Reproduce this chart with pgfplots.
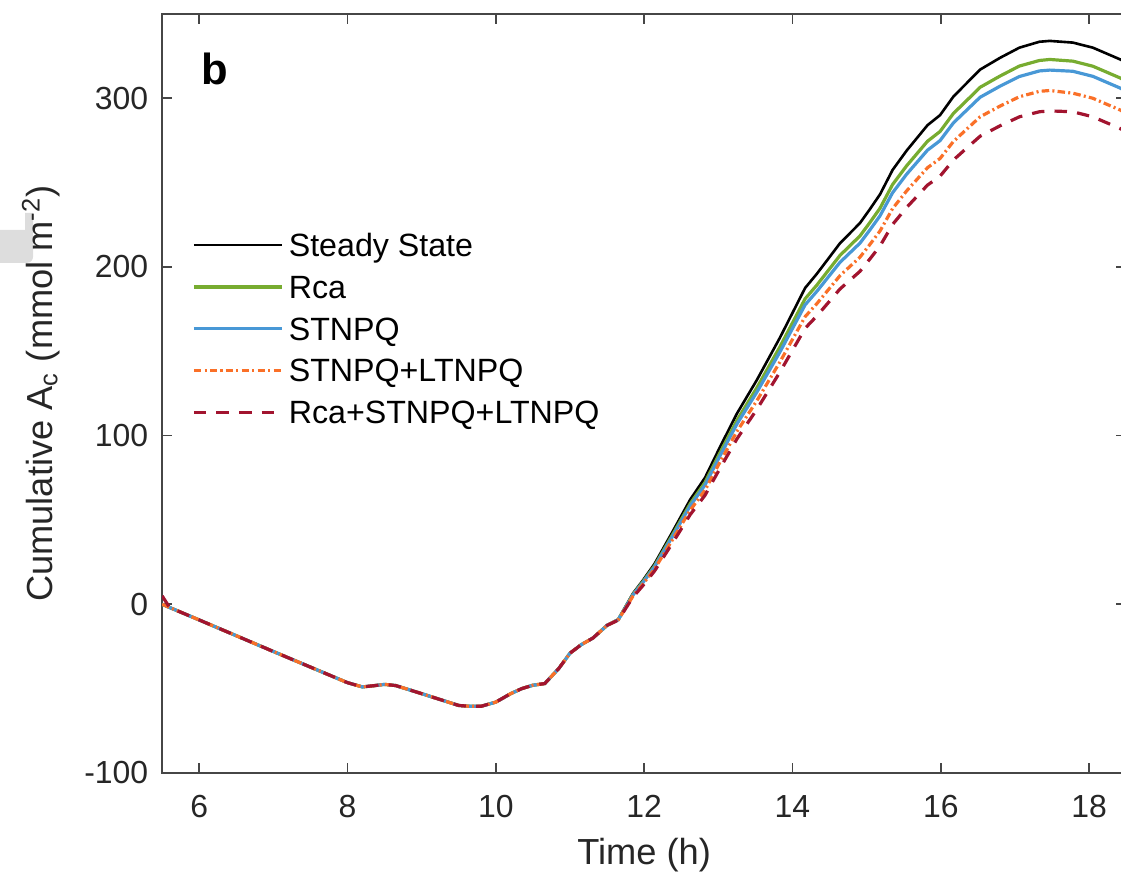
\documentclass[border=0pt]{standalone}
\usepackage{fontspec}
\setmainfont{Liberation Sans}
\usepackage{pgfplots}
\pgfplotsset{compat=1.18}
\usepackage{pgfplotstable}
\definecolor{axgray}{RGB}{38,38,38}
\definecolor{spine}{RGB}{70,70,70}
\definecolor{cgreen}{RGB}{119,172,48}
\definecolor{cblue}{RGB}{72,152,214}
\definecolor{corange}{RGB}{250,112,40}
\definecolor{cred}{RGB}{162,20,47}
\definecolor{blob}{RGB}{221,221,221}

% cumulative assimilation, columns: time, steady state, Rca, STNPQ, STNPQ+LTNPQ, Rca+STNPQ+LTNPQ
\pgfplotstableread{
t     ss     rca    st     stlt   all
5.5   0      0      0      0      5
5.6   -1.9   -1.9   -1.9   -1.9   -1.9
6.0   -9.3   -9.3   -9.3   -9.3   -9.3
7.0   -28    -28    -28    -28    -28
8.0   -46.5  -46.5  -46.5  -46.5  -46.5
8.2   -49    -49    -49    -49    -49
8.35  -48.3  -48.3  -48.3  -48.3  -48.3
8.5   -47.5  -47.5  -47.5  -47.5  -47.5
8.65  -48.2  -48.2  -48.2  -48.2  -48.2
9.0   -53    -53    -53    -53    -53
9.5   -60    -60    -60    -60    -60
9.65  -60.5  -60.5  -60.5  -60.5  -60.5
9.8   -60.5  -60.5  -60.5  -60.5  -60.5
10.0  -58    -58    -58    -58    -58
10.2  -53    -53    -53    -53    -53
10.35 -50    -50    -50    -50    -50
10.5  -48    -48    -48    -48    -48
10.66 -47    -47    -47    -47    -47
10.85 -38    -38    -38    -38    -38
11.0  -29    -29    -29    -29    -29
11.15 -24    -24    -24    -24    -24
11.31 -20    -20    -20    -20    -20
11.5  -12.5  -12.5  -12.5  -12.5  -12.5
11.65 -9     -9.1   -9.2   -9.3   -9.4
11.85 6.5    5.9    5.6    4.9    4.3
11.98 14     13.2   12.7   11.8   10.9
12.14 24     22.8   22.2   20.9   19.7
12.37 42     40.3   39.3   37.4   35.5
12.62 62     59.6   58.3   55.7   53.1
12.82 75     72.2   70.7   67.6   64.6
13.02 93     89.6   87.8   84.1   80.4
13.25 113    109    106.8  102.4  98
13.52 133    128.4  125.8  120.7  115.6
13.83 158    152.6  149.5  143.6  137.6
14.17 187.5  181.1  177.5  170.5  163.6
14.33 196    189.3  185.6  178.3  171
14.64 214    206.8  202.7  194.8  186.9
14.91 226    218.4  214.1  205.8  197.4
15.04 234    226.1  221.7  213.1  204.5
15.18 243    234.8  230.3  221.3  212.4
15.35 257.5  248.9  244    234.6  225.2
15.54 269    260    255    245.1  235.3
15.82 284    274.5  269.2  258.8  248.5
15.99 290    280.3  274.9  264.3  253.8
16.17 301    291    285.4  274.4  263.4
16.35 309    298.7  293    281.7  270.5
16.53 317    306.5  300.6  289    277.5
16.8  324    313.2  307.2  295.4  283.7
17.06 330    319.1  312.9  300.9  289
17.33 333.5  322.4  316.2  304.1  292
17.47 334    323    316.7  304.6  292.5
17.78 333    322    316    303    292
18.05 330    319    313    300    289
18.42 323    312    306    293    282
18.5  321    310    304    291    280
}\cumdata

\begin{document}
\begin{tikzpicture}
% stray grey patch at the left edge of the panel
\fill[blob] (-55.9pt,175.9pt) -- (-55.9pt,187.2pt) -- (-47.2pt,187.2pt) -- (-47.2pt,193.1pt)
  -- (-44.5pt,193.1pt) -- (-44.5pt,178pt) to[out=-90,in=0] (-46.5pt,175.9pt) -- cycle;
\begin{axis}[
  scale only axis, width=332.4pt, height=261.7pt,
  xmin=5.5, xmax=18.5, ymin=-100, ymax=350,
  xtick={6,8,...,18}, ytick={-100,0,...,300},
  tick align=inside, major tick length=3.5pt,
  axis line style={spine, line width=0.7pt},
  every tick/.style={spine, line width=0.6pt},
  tick label style={font=\fontsize{11}{13}\selectfont, text=axgray},
  /pgf/number format/assume math mode=true,
  x tick label style={anchor=base, yshift=-15.5pt},
  y tick label style={xshift=-1.3pt},
  xlabel={Time (h)},
  ylabel={Cumulative A\textsubscript{c} (mmol m\textsuperscript{-2})},
  label style={font=\fontsize{12.5}{15}\selectfont, text=axgray},
  xlabel style={at={(axis description cs:0.5,-0.12)}, anchor=base},
  ylabel style={at={(axis description cs:-0.114,0.5)}, anchor=base},
  no markers,
  legend cell align=left,
  legend image code/.code={\draw[#1] (0pt,1.1pt) -- (30.3pt,1.1pt);},
  legend style={at={(rel axis cs:0.0306,0.7194)}, anchor=north west,
    draw=none, fill=none, inner sep=0pt, row sep=0pt,
    font=\fontsize{11.1}{13}\selectfont,
    nodes={inner xsep=1.9pt, inner ysep=2pt, text height=8pt, text depth=2.4pt}},
]
\addplot[black, line width=0.9pt] table[x=t, y=ss] {\cumdata};
\addplot[cgreen, line width=1.1pt] table[x=t, y=rca] {\cumdata};
\addplot[cblue, line width=1.1pt] table[x=t, y=st] {\cumdata};
\addplot[corange, line width=1.1pt, dash pattern=on 2.6pt off 1.1pt on 0.7pt off 1.1pt] table[x=t, y=stlt] {\cumdata};
\addplot[cred, line width=1.1pt, dash pattern=on 4.3pt off 3.5pt] table[x=t, y=all] {\cumdata};
\legend{Steady State, Rca, STNPQ, STNPQ+LTNPQ, Rca+STNPQ+LTNPQ}
\node[anchor=base west, inner sep=0pt, font=\fontsize{15}{18}\selectfont\bfseries] at (axis cs:6.02,308) {b};
\end{axis}
\pgfresetboundingbox
\path[use as bounding box] (-55.9pt,-35.2pt) rectangle (330.6pt,266.5pt);
\end{tikzpicture}
\end{document}
